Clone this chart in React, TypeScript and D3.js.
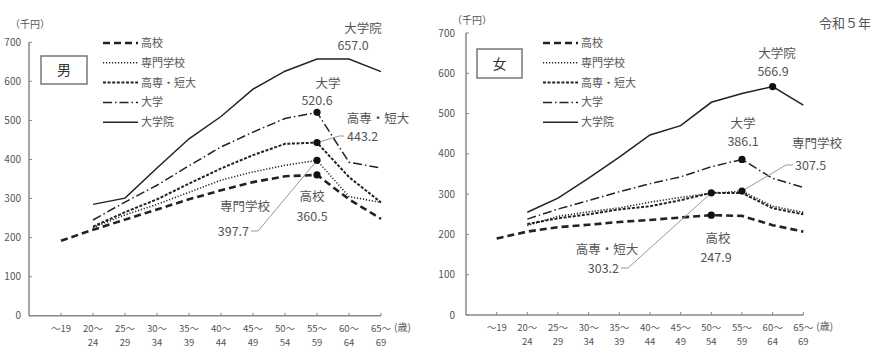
import * as d3 from "d3";

// age groups (two-line tick labels)
const ageTop = ["～19", "20～", "25～", "30～", "35～", "40～", "45～", "50～", "55～", "60～", "65～"];
const ageBottom = ["", "24", "29", "34", "39", "44", "49", "54", "59", "64", "69"];
const ages = ageTop.map((t, i) => t + ageBottom[i]);

const yTicks = [0, 100, 200, 300, 400, 500, 600, 700];
const seriesNames = ["高校", "専門学校", "高専・短大", "大学", "大学院"];

// 男 (thousand yen)
const maleKoukou = [192, 220, 246, 272, 298, 321, 342, 357, 360.5, 298, 248];
const maleSenmon = [null, 226, 258, 285, 316, 347, 368, 385, 397.7, 305, 290];
const maleKosen = [null, 228, 265, 298, 338, 377, 411, 440, 443.2, 355, 290];
const maleDaigaku = [null, 245, 291, 334, 384, 432, 470, 505, 520.6, 393, 378];
const maleIn = [null, 285, 301, 378, 453, 510, 580, 626, 657.0, 657, 625];

// 女 (thousand yen)
const femaleKoukou = [190, 207, 218, 224, 231, 236, 242, 247.9, 246, 223, 207];
const femaleSenmon = [null, 222, 245, 256, 266, 280, 292, 302, 307.5, 270, 255];
const femaleKosen = [null, 226, 240, 250, 262, 270, 285, 303.2, 303, 265, 250];
const femaleDaigaku = [null, 238, 263, 284, 306, 326, 343, 368, 386.1, 339, 317];
const femaleIn = [null, 255, 290, 340, 392, 447, 470, 528, 550, 566.9, 521];

const styles = [
  { width: 2.6, dash: "7,4" },
  { width: 1.6, dash: "1.2,1.8" },
  { width: 2, dash: "3,1.6" },
  { width: 1.5, dash: "9,3,1.5,3" },
  { width: 1.5, dash: "" },
];

const FONT = "'Noto Sans CJK JP', 'DejaVu Sans', sans-serif";
const GRAY = "#555";

type Ann = {
  s: number;
  a: number;
  name: [number, number];
  val: [number, number];
  anchor?: "start" | "middle" | "end";
  leader?: [number, number, number];
};

type PanelProps = {
  data: (number | null)[][];
  x0: number;
  x1: number;
  yBottom: number;
  yTop: number;
  sex: string;
  box: [number, number, number, number];
  legendX: number;
  unitPos: [number, number];
  labelEnd: number;
  markers: [number, number][];
  anns: Ann[];
};

function Panel(p: PanelProps) {
  const step = (p.x1 - p.x0) / 11;
  const x = d3.scalePoint<string>().domain(ages).range([p.x0 + step, p.x1]);
  const y = d3.scaleLinear().domain([0, 700]).range([p.yBottom, p.yTop]);
  const line = d3
    .line<number | null>()
    .defined((d) => d != null)
    .x((_, i) => x(ages[i])!)
    .y((d) => y(d as number));

  return (
    <g fontFamily={FONT}>
      <text x={p.unitPos[0]} y={p.unitPos[1]} fontSize={10} fill={GRAY} textAnchor="middle">
        （千円）
      </text>
      {/* axes */}
      <line x1={p.x0} x2={p.x0} y1={p.yTop} y2={p.yBottom} stroke="#888" strokeWidth={1.5} />
      <line x1={p.x0} x2={p.x1} y1={p.yBottom} y2={p.yBottom} stroke="#888" strokeWidth={1.5} />
      {yTicks.map((t) => (
        <g key={t}>
          <line x1={p.x0} x2={p.x0 + 3} y1={y(t)} y2={y(t)} stroke="#888" />
          <text x={p.labelEnd} y={y(t) + 3.5} fontSize={10} fill={GRAY} textAnchor="end">
            {t}
          </text>
        </g>
      ))}
      {ages.map((a, i) => (
        <g key={a}>
          <line x1={x(a)} x2={x(a)} y1={p.yBottom} y2={p.yBottom - 3} stroke="#888" />
          <text x={x(a)} y={p.yBottom + 16} fontSize={9.5} fill={GRAY} textAnchor="middle">
            {ageTop[i]}
          </text>
          <text x={x(a)} y={p.yBottom + 30} fontSize={9.5} fill={GRAY} textAnchor="middle">
            {ageBottom[i]}
          </text>
        </g>
      ))}
      <text x={p.x1 + 13} y={p.yBottom + 15} fontSize={10} fill={GRAY}>
        (歳)
      </text>

      {/* sex box */}
      <rect x={p.box[0]} y={p.box[1]} width={p.box[2]} height={p.box[3]} fill="none" stroke="#777" strokeWidth={1.5} />
      <text x={p.box[0] + p.box[2] / 2} y={p.box[1] + p.box[3] / 2 + 5} fontSize={14} textAnchor="middle" fill="#333">
        {p.sex}
      </text>

      {/* legend */}
      {seriesNames.map((n, i) => (
        <g key={n}>
          <line
            x1={p.legendX}
            x2={p.legendX + 35}
            y1={43 + i * 19.8}
            y2={43 + i * 19.8}
            stroke="#222"
            strokeWidth={styles[i].width}
            strokeDasharray={styles[i].dash}
          />
          <text x={p.legendX + 38} y={43 + i * 19.8 + 4} fontSize={11} fill={GRAY}>
            {n}
          </text>
        </g>
      ))}

      {/* series */}
      {p.data.map((d, i) => (
        <path
          key={i}
          d={line(d) ?? ""}
          fill="none"
          stroke="#222"
          strokeWidth={styles[i].width}
          strokeDasharray={styles[i].dash}
        />
      ))}

      {/* leaders */}
      {p.anns
        .filter((a) => a.leader)
        .map((a, i) => {
          const [lx, ly, lx2] = a.leader!;
          const px = x(ages[a.a])!;
          const py = y(p.data[a.s][a.a] as number);
          return (
            <polyline
              key={"l" + i}
              points={`${lx},${ly} ${lx2},${ly} ${px},${py}`}
              fill="none"
              stroke="#999"
              strokeWidth={1}
            />
          );
        })}

      {p.markers.map(([s, a]) => (
        <circle key={s + "-" + a} cx={x(ages[a])} cy={y(p.data[s][a] as number)} r={3.6} fill="#111" />
      ))}

      {p.anns.map((a, i) => (
        <g key={"a" + i} fontSize={12.5} fill={GRAY}>
          <text x={a.name[0]} y={a.name[1]} textAnchor="middle">
            {seriesNames[a.s]}
          </text>
          <text x={a.val[0]} y={a.val[1]} textAnchor={a.anchor ?? "middle"}>
            {(p.data[a.s][a.a] as number).toFixed(1)}
          </text>
        </g>
      ))}
    </g>
  );
}

export default function App() {
  return (
    <svg width={886} height={362} style={{ position: "absolute", left: 0, top: 0, background: "#fff" }}>
      <Panel
        data={[maleKoukou, maleSenmon, maleKosen, maleDaigaku, maleIn]}
        x0={29}
        x1={381}
        yBottom={315.7}
        yTop={42.3}
        sex="男"
        box={[41, 56, 46, 28]}
        legendX={103}
        unitPos={[30, 28]}
        labelEnd={21}
        markers={[[0, 8], [1, 8], [2, 8], [3, 8]]}
        anns={[
          { s: 4, a: 8, name: [363, 33], val: [353, 50] },
          { s: 3, a: 8, name: [328, 88], val: [317, 105] },
          { s: 2, a: 8, name: [378, 123], val: [347, 141], anchor: "start", leader: [344, 136, 339] },
          { s: 1, a: 8, name: [245, 211], val: [249, 236], anchor: "end", leader: [251, 231, 258] },
          { s: 0, a: 8, name: [312, 201], val: [312, 221] },
        ]}
      />
      <Panel
        data={[femaleKoukou, femaleSenmon, femaleKosen, femaleDaigaku, femaleIn]}
        x0={466}
        x1={803.3}
        yBottom={315}
        yTop={33}
        sex="女"
        box={[477, 49, 45, 29]}
        legendX={543}
        unitPos={[472, 24]}
        labelEnd={455}
        markers={[[4, 9], [3, 8], [1, 8], [2, 7], [0, 7]]}
        anns={[
          { s: 4, a: 9, name: [777, 58], val: [773, 76] },
          { s: 3, a: 8, name: [743, 128], val: [743, 146] },
          { s: 1, a: 8, name: [817, 148], val: [795, 170], anchor: "start", leader: [793, 165, 786] },
          { s: 2, a: 7, name: [607, 254], val: [619, 273], anchor: "end", leader: [621, 268, 628] },
          { s: 0, a: 7, name: [718, 243], val: [716, 262] },
        ]}
      />
      <text x={845} y={28} fontSize={13} fill={GRAY} textAnchor="middle" fontFamily={FONT}>
        令和５年
      </text>
    </svg>
  );
}
